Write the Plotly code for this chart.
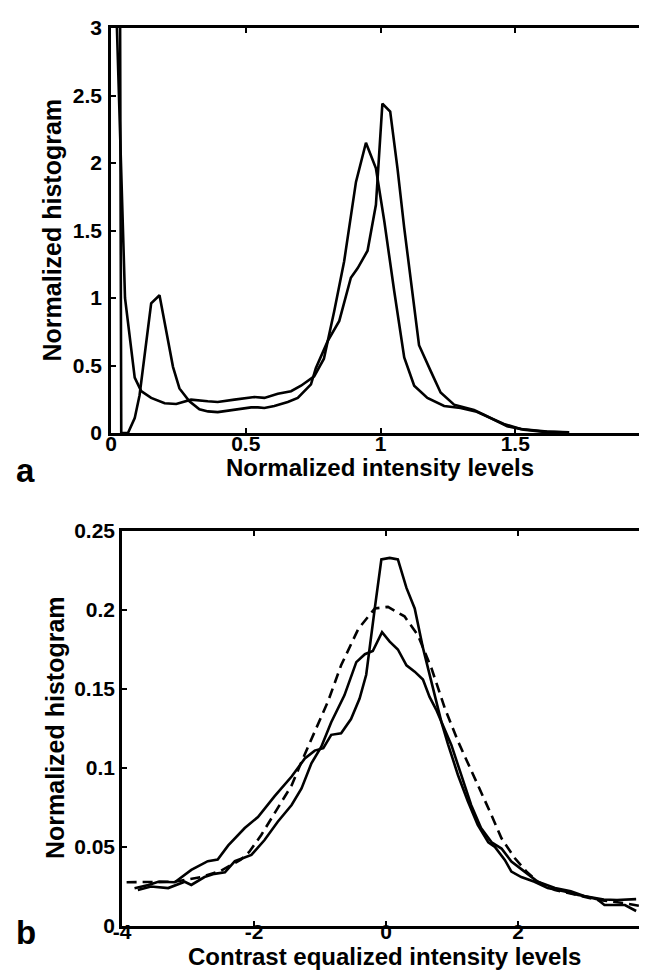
import plotly.graph_objects as go

# ---------------- Panel a data ----------------
a1_x = [0.033, 0.038, 0.063, 0.088, 0.106, 0.125, 0.149, 0.18, 0.205, 0.23, 0.254, 0.291, 0.328,
        0.36, 0.396, 0.43, 0.458, 0.49, 0.52, 0.545, 0.569, 0.606, 0.656, 0.693, 0.742, 0.76,
        0.804, 0.847, 0.89, 0.915, 0.952, 0.983, 1.007, 1.036, 1.063, 1.088, 1.125, 1.143,
        1.186, 1.223, 1.273, 1.347, 1.384, 1.421, 1.47, 1.532, 1.6, 1.7]
a1_y = [3.6, 0.0, 0.0, 0.11, 0.28, 0.6, 0.96, 1.02, 0.75, 0.49, 0.33, 0.235, 0.175,
        0.16, 0.155, 0.165, 0.17, 0.18, 0.19, 0.19, 0.185, 0.2, 0.23, 0.26, 0.36, 0.48,
        0.68, 0.83, 1.15, 1.22, 1.35, 1.69, 2.44, 2.38, 1.96, 1.52, 0.95, 0.65,
        0.46, 0.3, 0.21, 0.17, 0.135, 0.1, 0.05, 0.025, 0.01, 0.003]

a2_x = [0.013, 0.052, 0.088, 0.112, 0.149, 0.199, 0.242, 0.297, 0.359, 0.396, 0.458, 0.532,
        0.569, 0.619, 0.668, 0.705, 0.754, 0.79, 0.828, 0.865, 0.909, 0.946, 0.983, 1.014,
        1.051, 1.088, 1.125, 1.174, 1.236, 1.297, 1.353, 1.396, 1.458, 1.52, 1.618, 1.7]
a2_y = [3.6, 1.0, 0.41, 0.31, 0.26, 0.22, 0.215, 0.247, 0.235, 0.23, 0.247, 0.267,
        0.26, 0.29, 0.31, 0.35, 0.42, 0.55, 0.9, 1.27, 1.86, 2.15, 1.96, 1.57,
        1.05, 0.56, 0.35, 0.26, 0.2, 0.185, 0.16, 0.12, 0.067, 0.03, 0.01, 0.005]

# ---------------- Panel b data ----------------
b1_x = [-3.81, -3.6, -3.45, -3.2, -2.95, -2.7, -2.55, -2.39, -2.14, -1.94, -1.69, -1.43, -1.23,
        -1.08, -0.95, -0.83, -0.68, -0.53, -0.4, -0.3, -0.17, -0.07, 0.056, 0.18, 0.31, 0.435,
        0.56, 0.71, 0.84, 0.94, 1.09, 1.24, 1.39, 1.55, 1.65, 1.8, 1.9, 2.05, 2.25, 2.45,
        2.71, 2.91, 3.1, 3.3, 3.5, 3.65, 3.79]
b1_y = [0.0239, 0.026, 0.028, 0.0277, 0.0355, 0.041, 0.042, 0.051, 0.062, 0.069, 0.082, 0.0946, 0.106,
        0.111, 0.1125, 0.121, 0.122, 0.131, 0.144, 0.159, 0.201, 0.232, 0.233, 0.232, 0.214, 0.201,
        0.176, 0.15, 0.129, 0.115, 0.0956, 0.079, 0.064, 0.053, 0.05, 0.0418, 0.0344, 0.031, 0.028, 0.024,
        0.0218, 0.0196, 0.018, 0.0168, 0.0165, 0.0167, 0.017]

b2_x = [-3.76, -3.56, -3.3, -3.05, -2.95, -2.75, -2.6, -2.44, -2.29, -2.04, -1.84, -1.64, -1.43,
        -1.28, -1.13, -0.98, -0.83, -0.63, -0.45, -0.32, -0.2, -0.06, 0.056, 0.18, 0.31, 0.435,
        0.56, 0.66, 0.76, 0.84, 0.99, 1.14, 1.29, 1.44, 1.6, 1.75, 1.9, 2.1, 2.3, 2.56, 2.8,
        3.0, 3.2, 3.31, 3.45, 3.62, 3.79]
b2_y = [0.0228, 0.025, 0.024, 0.028, 0.026, 0.031, 0.033, 0.034, 0.041, 0.045, 0.0544, 0.066, 0.0766,
        0.087, 0.103, 0.1135, 0.129, 0.146, 0.167, 0.172, 0.174, 0.186, 0.18, 0.175, 0.165, 0.161,
        0.156, 0.145, 0.137, 0.129, 0.1146, 0.0956, 0.0766, 0.062, 0.053, 0.049, 0.0408, 0.0344, 0.028, 0.024, 0.022,
        0.019, 0.017, 0.0133, 0.0135, 0.0133, 0.0095]

b3_x = [-3.93, -3.56, -3.2, -2.8, -2.5, -2.2, -2.07, -1.89, -1.74, -1.59, -1.43, -1.28, -1.13,
        -0.88, -0.68, -0.42, -0.17, 0.03, 0.28, 0.485, 0.69, 0.89, 1.09, 1.29, 1.44, 1.6,
        1.75, 1.95, 2.13, 2.3, 2.56, 2.91, 3.21, 3.62, 3.89]
b3_y = [0.0277, 0.0277, 0.028, 0.031, 0.035, 0.042, 0.047, 0.0576, 0.068, 0.0777, 0.089, 0.104, 0.118,
        0.142, 0.165, 0.188, 0.201, 0.202, 0.196, 0.184, 0.163, 0.138, 0.117, 0.099, 0.085, 0.07,
        0.0555, 0.043, 0.0344, 0.028, 0.0228, 0.0196, 0.0165, 0.0144, 0.0123]

# tick labels
a_xticks = [0, 0.5, 1, 1.5, 2]
a_xtext = ["0", "0.5", "1", "1.5", "2"]
a_yticks = [0, 0.5, 1, 1.5, 2, 2.5, 3]
a_ytext = ["0", "0.5", "1", "1.5", "2", "2.5", "3"]
b_xticks = [-4, -2, 0, 2, 4]
b_xtext = ["-4", "-2", "0", "2", "4"]
b_yticks = [0, 0.05, 0.1, 0.15, 0.2, 0.25]
b_ytext = ["0", "0.05", "0.1", "0.15", "0.2", "0.25"]

FONT = "Liberation Sans, Arial, Helvetica, sans-serif"
W, H = 647, 971
LW = 2.6

fig = go.Figure()
fig.add_trace(go.Scatter(x=a1_x, y=a1_y, mode="lines", line=dict(color="black", width=LW),
                         xaxis="x", yaxis="y", showlegend=False))
fig.add_trace(go.Scatter(x=a2_x, y=a2_y, mode="lines", line=dict(color="black", width=LW),
                         xaxis="x", yaxis="y", showlegend=False))
fig.add_trace(go.Scatter(x=b1_x, y=b1_y, mode="lines", line=dict(color="black", width=LW),
                         xaxis="x2", yaxis="y2", showlegend=False))
fig.add_trace(go.Scatter(x=b2_x, y=b2_y, mode="lines", line=dict(color="black", width=LW),
                         xaxis="x2", yaxis="y2", showlegend=False))
fig.add_trace(go.Scatter(x=b3_x, y=b3_y, mode="lines",
                         line=dict(color="black", width=LW, dash="10px,6px"),
                         xaxis="x2", yaxis="y2", showlegend=False))

tickfont = dict(family=FONT, size=21, color="black", weight="bold")

def axis(rng, tv, tt, dom, anchor, standoff):
    return dict(range=rng, domain=dom, anchor=anchor, tickvals=tv, ticktext=tt,
                showline=True, linecolor="black", linewidth=2.6, mirror="allticks",
                ticks="inside", ticklen=5, tickwidth=2, tickcolor="black",
                showgrid=False, zeroline=False, tickfont=tickfont, fixedrange=True,
                automargin=False, ticklabeloverflow="allow", ticklabelstandoff=standoff)

def px_x(p):
    return p / W

def px_y(p):
    return (H - p) / H

fig.update_layout(
    width=W, height=H,
    margin=dict(l=0, r=0, t=0, b=0, autoexpand=False),
    paper_bgcolor="white", plot_bgcolor="white",
    xaxis=axis([0, 2], a_xticks, a_xtext, [px_x(103), px_x(642)], "y", -10),
    yaxis=axis([0, 3], a_yticks, a_ytext, [px_y(425), px_y(20)], "x", 2),
    xaxis2=axis([-4, 4], b_xticks, b_xtext, [px_x(114), px_x(642)], "y2", -15),
    yaxis2=axis([0, 0.25], b_yticks, b_ytext, [px_y(918), px_y(523)], "x2", 0),
)

ytitlefont = dict(family=FONT, size=25, color="black", weight="bold")
xtitlefont = dict(family=FONT, size=24, color="black", weight="bold")
labfont = dict(family=FONT, size=33, color="black", weight="bold")
ann = [
    dict(text="Normalized histogram", x=px_x(44), y=px_y(222.5), textangle=-90, font=ytitlefont),
    dict(text="Normalized histogram", x=px_x(47), y=px_y(720), textangle=-90, font=ytitlefont),
    dict(text="Normalized intensity levels", x=px_x(372.5), y=px_y(459), font=xtitlefont),
    dict(text="Contrast equalized intensity levels", x=px_x(376), y=px_y(948), font=xtitlefont),
    dict(text="a", x=px_x(17), y=px_y(462), font=labfont),
    dict(text="b", x=px_x(18), y=px_y(924), font=labfont),
]
for a in ann:
    a.update(xref="paper", yref="paper", xanchor="center", yanchor="middle", showarrow=False)
fig.update_layout(annotations=ann)

fig.write_html("out.html")
